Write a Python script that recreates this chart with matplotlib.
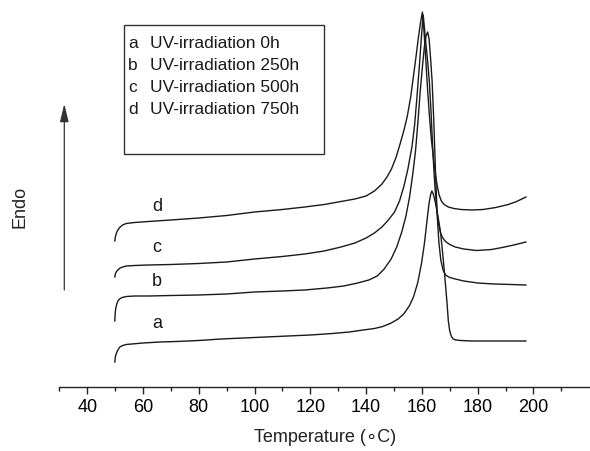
import matplotlib
matplotlib.use("Agg")
import matplotlib.pyplot as plt
from matplotlib.patches import Rectangle

plt.rcParams['font.family'] = ['Liberation Sans', 'DejaVu Sans']

# DSC curves, heat flow in arbitrary units (offset for display)
temp_a = [49.9, 50.1, 50.5, 51.0, 51.7, 52.7, 54.0, 56.0, 60, 66, 72, 80, 88, 96, 104, 112, 120,
          128, 134, 139, 143, 146, 149, 151.5, 153.5, 155.5, 157.0, 158.5, 159.9, 160.9, 161.8,
          162.6, 163.2, 163.6, 164.1, 164.8, 165.7, 166.7, 167.6, 168.4, 169.0, 169.5, 170.0,
          170.6, 171.3, 172.2, 174, 178, 185, 191, 197.3]
heat_a = [25, 30, 34, 37, 40, 41.5, 42.5, 43, 44, 45, 45.5, 46.5, 48, 49, 50, 51, 52,
          53.5, 55, 57, 58.5, 60.5, 64, 68, 73, 81, 90, 104, 124, 143, 165,
          184, 193, 196, 193, 185, 172, 155, 130, 105, 85, 66, 56,
          50.5, 48, 47, 46.5, 46, 46, 46, 46]

temp_b = [49.9, 50.0, 50.2, 50.5, 51.0, 51.6, 52.5, 54, 57, 62, 70, 80, 90, 100, 110, 118, 126,
          132, 137, 141, 144, 146.5, 149, 151, 152.8, 154.3, 155.6, 156.7, 157.7, 158.6, 159.4,
          160.2, 160.9, 161.5, 162.1, 162.6, 163.1, 163.7, 164.3, 164.9, 165.5, 166.1, 166.8,
          167.6, 168.5, 170, 172, 175, 180, 186, 192, 197.3]
heat_b = [66, 72, 78, 82, 86, 88, 89.5, 90.5, 91, 91, 91.5, 92, 93, 95, 96, 97, 99,
          101, 104, 107, 111, 118, 128, 140, 155, 171, 190, 212, 235, 265, 295,
          320, 340, 351, 355, 348, 330, 305, 265, 215, 172, 145, 127,
          117, 112, 109.5, 108, 106, 104, 103, 102.5, 102]

temp_c = [49.9, 50.1, 50.5, 51.0, 51.8, 52.7, 54, 57, 62, 70, 80, 90, 100, 110, 118, 125, 131,
          136, 140, 143, 145.7, 148, 150.2, 152, 153.6, 155, 156.5, 157.4, 158.2, 158.8, 159.3,
          159.8, 160.2, 160.5, 160.9, 161.5, 162.1, 162.7, 163.3, 163.8, 164.3, 164.7, 165.1,
          165.5, 166.0, 166.7, 167.5, 168.5, 170.0, 172.0, 175, 179.7, 185, 188.8, 193, 197.3]
heat_c = [110, 113, 115.5, 117, 119, 120, 121, 121.5, 122, 122.5, 123.5, 125, 128, 130.5, 133, 136, 140,
          144, 149, 154, 160, 167, 175, 186, 201, 218, 241, 262, 288, 310, 328,
          348, 363, 372, 360, 342, 325, 305, 275, 245, 218, 200, 186,
          174, 163, 154, 149, 145.5, 142.5, 140, 138, 136.5, 137.5, 139.5, 142, 145]

temp_d = [49.9, 50.1, 50.5, 51.0, 51.8, 52.7, 54, 57, 62, 70, 80, 90, 100, 110, 118, 125, 131,
          136, 140, 143, 145.7, 147.5, 149.1, 150.8, 152.4, 153.7, 154.8, 156, 157, 157.9, 158.7,
          159.5, 160.2, 160.8, 161.4, 162.0, 162.7, 163.4, 164.2, 165.0, 165.6, 166.2, 167.0,
          168.0, 169.5, 171.5, 174, 178, 182, 186.5, 191, 194, 197.3]
heat_d = [146, 150, 154, 157, 160, 162, 163.5, 164.5, 165.5, 167, 169, 171.5, 175, 177.5, 180, 182.5, 185.5,
          188, 191, 196, 203, 210, 218, 230, 245, 258, 271, 290, 311, 330, 348,
          364, 375, 355, 328, 300, 272, 248, 228, 210, 200, 192, 186,
          182.5, 180, 178.5, 177.5, 177, 177.5, 179.5, 182.5, 185.5, 190]

curve_names = ['a', 'b', 'c', 'd']
legend_lines = ['UV-irradiation 0h', 'UV-irradiation 250h',
                'UV-irradiation 500h', 'UV-irradiation 750h']
label_pos = [65, 65, 65, 65]
label_heat = [65, 106, 140, 181]

fig = plt.figure(figsize=(5.9, 4.52), dpi=100)
W, H = 590.0, 452.0
ax = fig.add_axes([59.3 / W, 64 / H, 1 - 59.3 / W, 388 / H])

for t, h in [(temp_a, heat_a), (temp_b, heat_b), (temp_c, heat_c), (temp_d, heat_d)]:
    ax.plot(t, h, color='#1a1a1a', lw=1.0, solid_joinstyle='round')

for name, tx, hy in zip(curve_names, label_pos, label_heat):
    ax.text(tx, hy, name, fontsize=13, ha='center', va='center', color='#1a1a1a')

ax.set_xlim(30, 220.3)
ax.set_ylim(0, 388)
for s in ['left', 'right', 'top']:
    ax.spines[s].set_visible(False)
ax.spines['bottom'].set_linewidth(1.0)
ax.spines['bottom'].set_color('#222222')
ax.set_yticks([])
ax.set_xticks(range(40, 201, 20))
ax.set_xticks(range(30, 211, 20), minor=True)
ax.tick_params(axis='x', which='major', length=5, width=1.0, labelsize=13, pad=3, color='#222222')
ax.tick_params(axis='x', which='minor', length=3, width=1.0, color='#222222')
ax.set_xlabel('Temperature (\u2218C)', fontsize=13, labelpad=9, color='#222222')

# Endo arrow
ax.annotate('', xy=(64.3, H - 105), xytext=(64.3, H - 291), xycoords='figure pixels',
            textcoords='figure pixels',
            arrowprops=dict(arrowstyle='-|>,head_length=0.9,head_width=0.22', color='#333333',
                            lw=0.9, mutation_scale=12, shrinkA=0, shrinkB=0))
fig.text(20 / W, 1 - 207 / H, 'Endo', rotation=90, fontsize=13, ha='center', va='center',
         color='#222222')

# legend box
fig.patches.append(Rectangle((124 / W, 1 - 155 / H), 200 / W, 129 / H, transform=fig.transFigure,
                             fill=False, lw=1.0, edgecolor='#333333'))
for i, (name, txt) in enumerate(zip(curve_names, legend_lines)):
    y = 1 - (43 + 22 * i) / H
    fig.text(128 / W, y, name, fontsize=12.5, ha='left', va='center', color='#1a1a1a')
    fig.text(150 / W, y, txt, fontsize=12.5, ha='left', va='center', color='#1a1a1a')

fig.savefig('out.png', dpi=100)
